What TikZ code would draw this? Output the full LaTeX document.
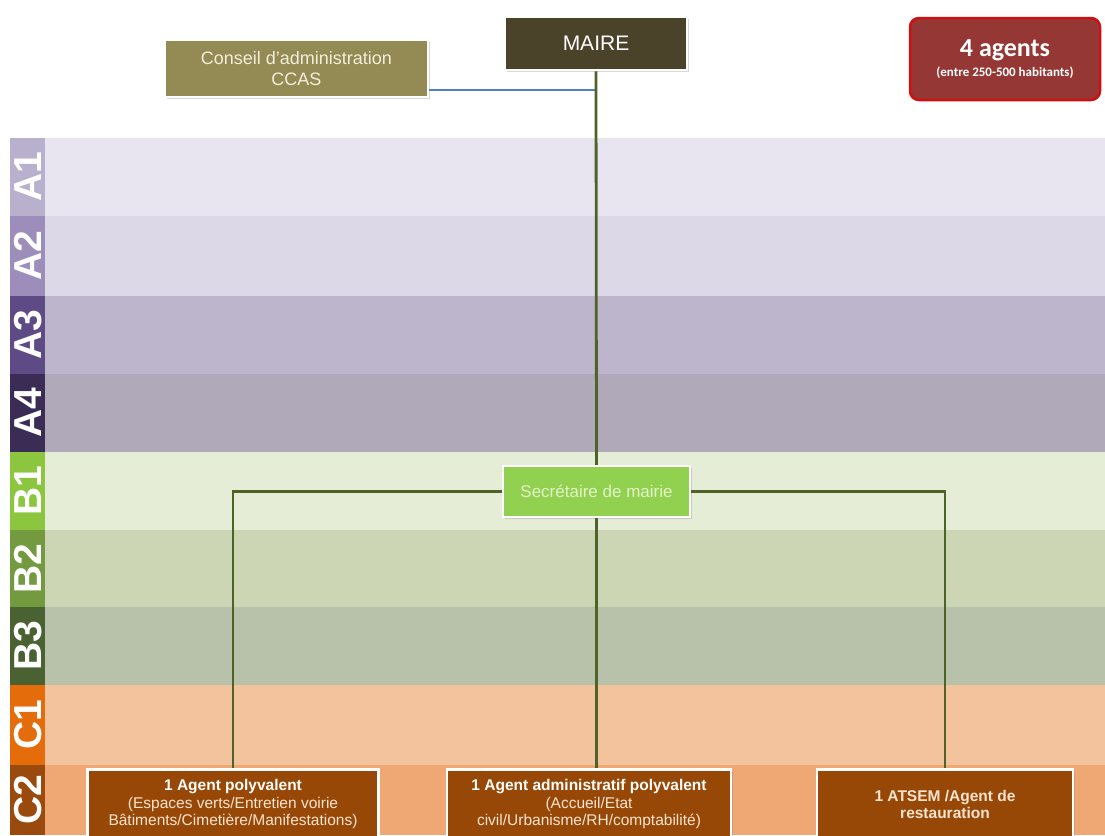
\documentclass[tikz,border=0pt]{standalone}
\usepackage{fontspec}
\setmainfont{Liberation Sans}
\newfontfamily\calibri{Carlito}
\usetikzlibrary{shadows}

\definecolor{gradeAi}{HTML}{B9B0CE}
\definecolor{gradeAii}{HTML}{9C8DBB}
\definecolor{gradeAiii}{HTML}{5E4A85}
\definecolor{gradeAiv}{HTML}{3A2C55}
\definecolor{gradeBi}{HTML}{8CC63F}
\definecolor{gradeBii}{HTML}{739A3F}
\definecolor{gradeBiii}{HTML}{4A6231}
\definecolor{gradeCi}{HTML}{E46C0A}
\definecolor{gradeCii}{HTML}{9A4A0D}
\definecolor{bandeAi}{HTML}{E8E4F0}
\definecolor{bandeAii}{HTML}{DDD8E8}
\definecolor{bandeAiii}{HTML}{BDB5CB}
\definecolor{bandeAiv}{HTML}{B0A9BA}
\definecolor{bandeBi}{HTML}{E5EDD6}
\definecolor{bandeBii}{HTML}{CCD6B4}
\definecolor{bandeBiii}{HTML}{B8C2AA}
\definecolor{bandeCi}{HTML}{F3C39D}
\definecolor{bandeCii}{HTML}{EFA874}
\definecolor{maireFond}{HTML}{4B4329}
\definecolor{ccasFond}{HTML}{948A54}
\definecolor{ccasTexte}{HTML}{F2EEDC}
\definecolor{effectifFond}{HTML}{953735}
\definecolor{effectifBord}{HTML}{D01010}
\definecolor{secFond}{HTML}{92D050}
\definecolor{secTexte}{HTML}{E2F4C8}
\definecolor{agentFond}{HTML}{974806}
\definecolor{agentTexte}{HTML}{FCE4D0}
\definecolor{lienVert}{HTML}{4F6228}
\definecolor{lienBleu}{HTML}{4F81BD}

\begin{document}
\begin{tikzpicture}[x=1pt,y=-1pt,
  boite/.style={draw=white, line width=2.5pt, align=center, inner sep=0pt,
    drop shadow={opacity=0.3, shadow xshift=1.5pt, shadow yshift=-2pt}},
  grade/.style={rotate=90, text=white, font=\bfseries\fontsize{39}{39}\selectfont},
  agent/.style={boite, fill=agentFond, text=agentTexte, anchor=north,
    minimum height=70, font=\fontsize{15.5}{17.5}\selectfont},
  lien/.style={draw=lienVert, line width=2.8pt}]
\useasboundingbox (0,0) rectangle (1105,835);
\fill[white] (0,0) rectangle (1105,835);

% bandes des grades
\foreach \nom/\haut/\bas/\cgrade/\cbande in {
  A1/138/216/gradeAi/bandeAi, A2/216/296/gradeAii/bandeAii,
  A3/296/374/gradeAiii/bandeAiii, A4/374/452/gradeAiv/bandeAiv,
  B1/452/530/gradeBi/bandeBi, B2/530/607/gradeBii/bandeBii,
  B3/607/685/gradeBiii/bandeBiii, C1/685/765/gradeCi/bandeCi,
  C2/765/835/gradeCii/bandeCii}
{
  \fill[\cbande] (45,\haut) rectangle (1105,\bas);
  \fill[\cgrade] (10,\haut) rectangle (45,\bas);
  \node[grade] (grade\nom) at (28,{(\haut+\bas)/2}) {\nom};
}

% boites du haut
\node[boite, fill=maireFond, text=white, minimum width=182, minimum height=53,
  font=\fontsize{21}{23}\selectfont] (maire) at (596,43.5) {MAIRE};
\node[boite, fill=ccasFond, text=ccasTexte, minimum width=263, minimum height=57,
  font=\fontsize{18}{21}\selectfont] (ccas) at (296.5,68.5)
  {Conseil d'administration\\CCAS};
\node[draw=effectifBord, line width=2.5pt, rounded corners=9pt, fill=effectifFond,
  text=white, align=center, minimum width=190, minimum height=82]
  (effectif) at (1005,59)
  {{\calibri\bfseries\fontsize{26}{27}\selectfont 4 agents}\\[5pt]
   {\calibri\bfseries\fontsize{13}{14}\selectfont (entre 250-500 habitants)}};

\node[boite, fill=secFond, text=secTexte, minimum width=187, minimum height=51,
  font=\fontsize{17}{19}\selectfont] (secretaire) at (596.5,491.5)
  {Secrétaire de mairie};

% agents
\node[agent, minimum width=291] (agentpoly) at (233,768)
  {{\bfseries\color{white!95!agentTexte}1 Agent polyvalent}\\
   (Espaces verts/Entretien voirie\\Bâtiments/Cimetière/Manifestations)};
\node[agent, minimum width=284] (agentadmin) at (589,768)
  {{\bfseries\color{white!95!agentTexte}1 Agent administratif polyvalent}\\
   (Accueil/Etat\\civil/Urbanisme/RH/comptabilité)};
\node[agent, minimum width=256] (atsem) at (945,768)
  {\bfseries 1 ATSEM /Agent de\\\bfseries restauration};

% liaisons
\coordinate (jonction) at (597,90);
\draw[draw=lienBleu, line width=2pt] (ccas.east |- jonction) -- (jonction);
\draw[lien] (maire.south) -- (secretaire.north);
\draw[lien] (secretaire.west) -| (agentpoly.north);
\draw[lien] (secretaire.east) -| (atsem.north);
\draw[lien] (secretaire.south) -- (secretaire.south |- agentadmin.north);
\end{tikzpicture}
\end{document}
